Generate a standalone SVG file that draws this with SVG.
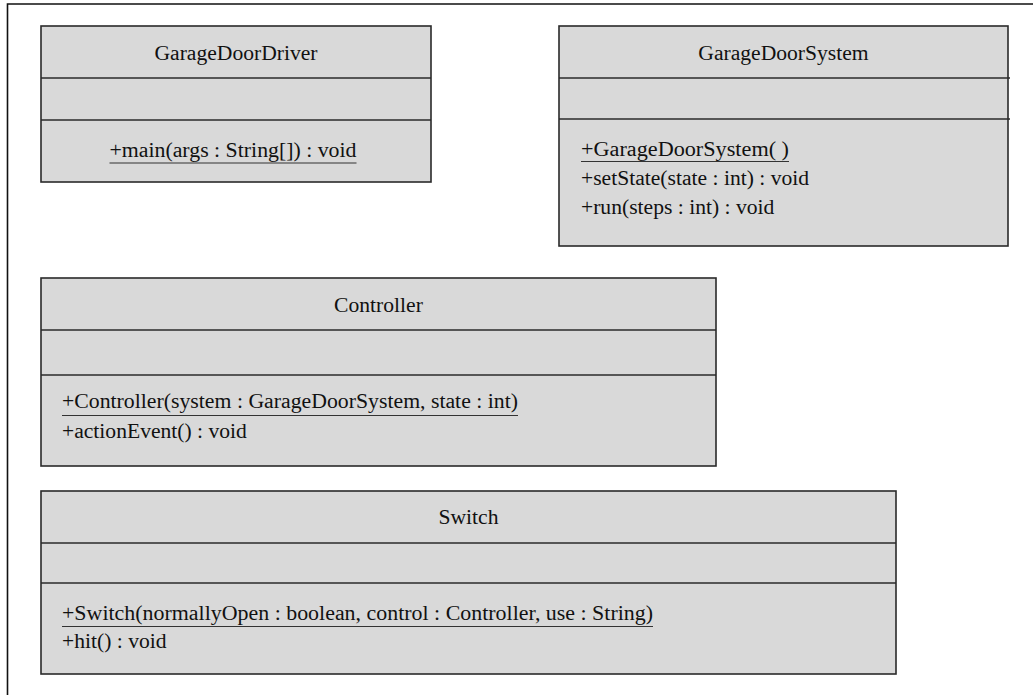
<svg xmlns="http://www.w3.org/2000/svg" width="1033" height="695" viewBox="0 0 1033 695">
<style>
.box{fill:#d9d9d9;stroke:#2a2a2a;stroke-width:1.6}
.sep{stroke:#2a2a2a;stroke-width:1.6}
.ul{stroke:#333;stroke-width:1.2}
.frame{stroke:#111;stroke-width:1.6;fill:none}
text{font-family:"Liberation Serif","Times New Roman",serif;font-size:21.6px;fill:#111}
.c{text-anchor:middle}
</style>
<rect width="1033" height="695" fill="#fff"/>
<path class="frame" d="M7.5,695 V4 H1033"/>
<g id="GarageDoorDriver">
<rect class="box" x="41" y="26" width="390" height="156"/>
<line class="sep" x1="41" y1="78" x2="431" y2="78"/>
<line class="sep" x1="41" y1="120" x2="431" y2="120"/>
<text class="c" x="236" y="60">GarageDoorDriver</text>
<text class="c" x="233" y="157" textLength="247" lengthAdjust="spacingAndGlyphs">+main(args : String[]) : void</text>
<line class="ul" x1="109.5" y1="163" x2="356.5" y2="163"/>
</g>
<g id="GarageDoorSystem">
<rect class="box" x="559" y="26" width="449" height="220"/>
<line class="sep" x1="559" y1="78" x2="1010" y2="78"/>
<line class="sep" x1="559" y1="119" x2="1010" y2="119"/>
<text class="c" x="783.5" y="60">GarageDoorSystem</text>
<text x="581" y="156" textLength="208" lengthAdjust="spacingAndGlyphs">+GarageDoorSystem( )</text>
<line class="ul" x1="581" y1="161.5" x2="789" y2="161.5"/>
<text x="581" y="185">+setState(state : int) : void</text>
<text x="581" y="214">+run(steps : int) : void</text>
</g>
<g id="Controller">
<rect class="box" x="41" y="278" width="675" height="188"/>
<line class="sep" x1="41" y1="330" x2="716" y2="330"/>
<line class="sep" x1="41" y1="375" x2="716" y2="375"/>
<text class="c" x="378.5" y="312">Controller</text>
<text x="62" y="408" textLength="456" lengthAdjust="spacingAndGlyphs">+Controller(system : GarageDoorSystem, state : int)</text>
<line class="ul" x1="62" y1="415.5" x2="518" y2="415.5"/>
<text x="62" y="438">+actionEvent() : void</text>
</g>
<g id="Switch">
<rect class="box" x="41" y="491" width="855" height="183"/>
<line class="sep" x1="41" y1="543" x2="896" y2="543"/>
<line class="sep" x1="41" y1="583" x2="896" y2="583"/>
<text class="c" x="468.5" y="524">Switch</text>
<text x="62" y="620" textLength="591" lengthAdjust="spacingAndGlyphs">+Switch(normallyOpen : boolean, control : Controller, use : String)</text>
<line class="ul" x1="62" y1="626.5" x2="653" y2="626.5"/>
<text x="62" y="648">+hit() : void</text>
</g>
<g id="connectors"></g>
</svg>
